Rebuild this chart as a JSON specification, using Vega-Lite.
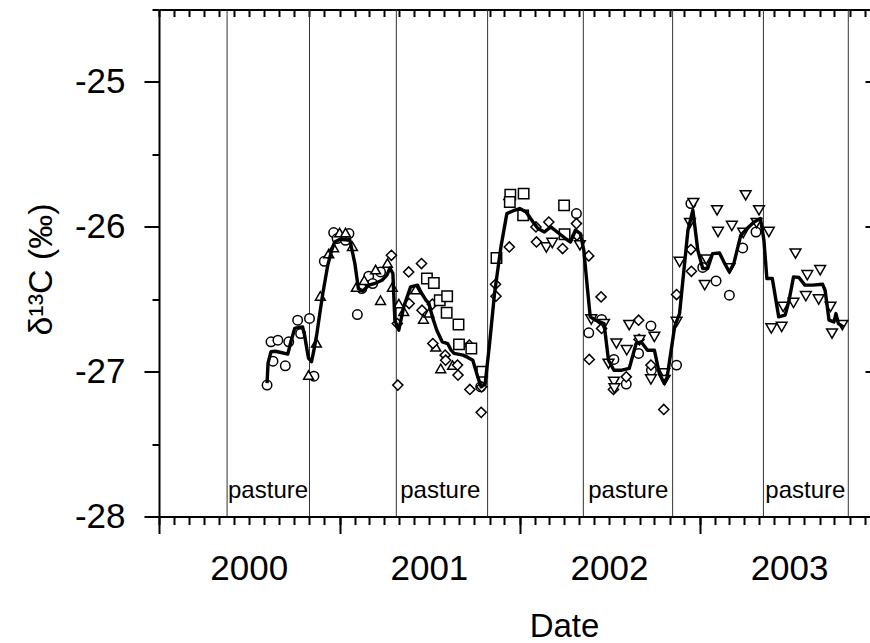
{
  "$schema": "https://vega.github.io/schema/vega-lite/v6.json",
  "width": 711,
  "height": 507,
  "autosize": {"type": "none"},
  "padding": {"left": 159, "top": 9.5, "right": 0, "bottom": 126.5},
  "background": "white",
  "config": {
    "view": {"stroke": null},
    "font": "Liberation Sans",
    "axis": {
      "grid": false,
      "domainColor": "black",
      "tickColor": "black",
      "labelColor": "black",
      "titleColor": "black",
      "labelFont": "Liberation Sans",
      "titleFont": "Liberation Sans",
      "titleFontWeight": "normal",
      "domainWidth": 2,
      "tickWidth": 2,
      "labelFlush": false,
      "labelOverlap": false
    }
  },
  "datasets": {
    "pastures": [
      {"start": "2000-05-18", "end": "2000-11-01", "mid": "2000-08-09", "label": "pasture"},
      {"start": "2001-04-26", "end": "2001-10-28", "mid": "2001-07-24", "label": "pasture"},
      {"start": "2002-05-10", "end": "2002-11-07", "mid": "2002-08-09", "label": "pasture"},
      {"start": "2003-05-10", "end": "2003-10-29", "mid": "2003-08-03", "label": "pasture"}
    ],
    "samples": [
      {"date": "2000-08-07", "d13C": -27.093, "series": "1"},
      {"date": "2000-08-19", "d13C": -26.928, "series": "1"},
      {"date": "2000-08-15", "d13C": -26.794, "series": "1"},
      {"date": "2000-08-29", "d13C": -26.783, "series": "1"},
      {"date": "2000-09-13", "d13C": -26.960, "series": "1"},
      {"date": "2000-09-20", "d13C": -26.794, "series": "1"},
      {"date": "2000-10-08", "d13C": -26.645, "series": "1"},
      {"date": "2000-10-14", "d13C": -26.737, "series": "1"},
      {"date": "2000-11-01", "d13C": -26.633, "series": "1"},
      {"date": "2000-11-10", "d13C": -27.031, "series": "1"},
      {"date": "2000-12-01", "d13C": -26.238, "series": "1"},
      {"date": "2000-12-20", "d13C": -26.040, "series": "1"},
      {"date": "2000-12-27", "d13C": -26.081, "series": "1"},
      {"date": "2001-01-13", "d13C": -26.093, "series": "1"},
      {"date": "2001-01-20", "d13C": -26.047, "series": "1"},
      {"date": "2001-02-06", "d13C": -26.606, "series": "1"},
      {"date": "2001-02-15", "d13C": -26.426, "series": "1"},
      {"date": "2001-03-01", "d13C": -26.341, "series": "1"},
      {"date": "2001-03-09", "d13C": -26.392, "series": "1"},
      {"date": "2001-03-25", "d13C": -26.312, "series": "1"},
      {"date": "2001-10-14", "d13C": -27.105, "series": "1"},
      {"date": "2002-04-26", "d13C": -25.909, "series": "1"},
      {"date": "2002-05-21", "d13C": -26.732, "series": "1"},
      {"date": "2002-06-16", "d13C": -26.640, "series": "1"},
      {"date": "2002-07-11", "d13C": -26.916, "series": "1"},
      {"date": "2002-08-05", "d13C": -27.086, "series": "1"},
      {"date": "2002-08-30", "d13C": -26.874, "series": "1"},
      {"date": "2002-09-24", "d13C": -26.684, "series": "1"},
      {"date": "2002-09-25", "d13C": -26.990, "series": "1"},
      {"date": "2002-11-15", "d13C": -26.955, "series": "1"},
      {"date": "2002-12-14", "d13C": -25.840, "series": "1"},
      {"date": "2003-01-07", "d13C": -26.281, "series": "1"},
      {"date": "2003-02-03", "d13C": -26.374, "series": "1"},
      {"date": "2003-03-02", "d13C": -26.472, "series": "1"},
      {"date": "2003-03-29", "d13C": -26.146, "series": "1"},
      {"date": "2003-04-25", "d13C": -26.036, "series": "1"},

      {"date": "2000-10-30", "d13C": -27.024, "series": "2"},
      {"date": "2000-11-15", "d13C": -26.801, "series": "2"},
      {"date": "2000-11-23", "d13C": -26.477, "series": "2"},
      {"date": "2000-12-10", "d13C": -26.185, "series": "2"},
      {"date": "2000-12-20", "d13C": -26.143, "series": "2"},
      {"date": "2001-01-01", "d13C": -26.040, "series": "2"},
      {"date": "2001-01-13", "d13C": -26.040, "series": "2"},
      {"date": "2001-01-27", "d13C": -26.134, "series": "2"},
      {"date": "2001-02-04", "d13C": -26.415, "series": "2"},
      {"date": "2001-02-20", "d13C": -26.369, "series": "2"},
      {"date": "2001-03-15", "d13C": -26.295, "series": "2"},
      {"date": "2001-03-25", "d13C": -26.507, "series": "2"},
      {"date": "2001-04-08", "d13C": -26.250, "series": "2"},
      {"date": "2001-04-18", "d13C": -26.415, "series": "2"},
      {"date": "2001-05-01", "d13C": -26.530, "series": "2"},
      {"date": "2001-05-11", "d13C": -26.583, "series": "2"},
      {"date": "2001-06-04", "d13C": -26.433, "series": "2"},
      {"date": "2001-06-20", "d13C": -26.636, "series": "2"},
      {"date": "2001-07-01", "d13C": -26.594, "series": "2"},
      {"date": "2001-07-15", "d13C": -26.829, "series": "2"},
      {"date": "2001-07-25", "d13C": -26.978, "series": "2"},
      {"date": "2001-08-18", "d13C": -26.955, "series": "2"},

      {"date": "2001-04-16", "d13C": -26.197, "series": "3"},
      {"date": "2001-04-28", "d13C": -26.668, "series": "3"},
      {"date": "2001-04-29", "d13C": -27.093, "series": "3"},
      {"date": "2001-05-21", "d13C": -26.312, "series": "3"},
      {"date": "2001-06-16", "d13C": -26.254, "series": "3"},
      {"date": "2001-05-22", "d13C": -26.530, "series": "3"},
      {"date": "2001-06-17", "d13C": -26.576, "series": "3"},
      {"date": "2001-07-08", "d13C": -26.534, "series": "3"},
      {"date": "2001-07-09", "d13C": -26.806, "series": "3"},
      {"date": "2001-08-03", "d13C": -26.886, "series": "3"},
      {"date": "2001-08-04", "d13C": -26.921, "series": "3"},
      {"date": "2001-08-28", "d13C": -26.955, "series": "3"},
      {"date": "2001-08-29", "d13C": -27.024, "series": "3"},
      {"date": "2001-09-21", "d13C": -26.817, "series": "3"},
      {"date": "2001-09-22", "d13C": -27.123, "series": "3"},
      {"date": "2001-10-16", "d13C": -27.105, "series": "3"},
      {"date": "2001-10-15", "d13C": -27.281, "series": "3"},
      {"date": "2001-11-13", "d13C": -26.397, "series": "3"},
      {"date": "2001-11-14", "d13C": -26.479, "series": "3"},
      {"date": "2001-12-10", "d13C": -25.812, "series": "3"},
      {"date": "2001-12-11", "d13C": -26.139, "series": "3"},
      {"date": "2002-02-03", "d13C": -26.001, "series": "3"},
      {"date": "2002-02-04", "d13C": -26.105, "series": "3"},
      {"date": "2002-03-01", "d13C": -25.967, "series": "3"},
      {"date": "2002-03-29", "d13C": -26.150, "series": "3"},
      {"date": "2002-04-26", "d13C": -25.978, "series": "3"},
      {"date": "2002-04-27", "d13C": -26.059, "series": "3"},
      {"date": "2002-05-21", "d13C": -26.201, "series": "3"},
      {"date": "2002-06-15", "d13C": -26.484, "series": "3"},
      {"date": "2002-06-16", "d13C": -26.702, "series": "3"},
      {"date": "2002-05-22", "d13C": -26.916, "series": "3"},
      {"date": "2002-07-10", "d13C": -27.123, "series": "3"},
      {"date": "2002-08-05", "d13C": -27.036, "series": "3"},
      {"date": "2002-08-30", "d13C": -26.645, "series": "3"},
      {"date": "2002-08-31", "d13C": -26.778, "series": "3"},
      {"date": "2002-09-24", "d13C": -26.955, "series": "3"},
      {"date": "2002-10-20", "d13C": -27.261, "series": "3"},
      {"date": "2002-11-15", "d13C": -26.468, "series": "3"},
      {"date": "2002-12-14", "d13C": -26.157, "series": "3"},
      {"date": "2002-12-15", "d13C": -26.307, "series": "3"},

      {"date": "2001-06-27", "d13C": -26.357, "series": "4"},
      {"date": "2001-07-11", "d13C": -26.388, "series": "4"},
      {"date": "2001-07-23", "d13C": -26.507, "series": "4"},
      {"date": "2001-08-07", "d13C": -26.479, "series": "4"},
      {"date": "2001-08-06", "d13C": -26.594, "series": "4"},
      {"date": "2001-08-30", "d13C": -26.674, "series": "4"},
      {"date": "2001-08-31", "d13C": -26.812, "series": "4"},
      {"date": "2001-09-25", "d13C": -26.840, "series": "4"},
      {"date": "2001-10-17", "d13C": -27.001, "series": "4"},
      {"date": "2001-11-15", "d13C": -26.215, "series": "4"},
      {"date": "2001-12-13", "d13C": -25.778, "series": "4"},
      {"date": "2001-12-12", "d13C": -25.829, "series": "4"},
      {"date": "2002-01-09", "d13C": -25.771, "series": "4"},
      {"date": "2002-01-08", "d13C": -25.921, "series": "4"},
      {"date": "2002-04-01", "d13C": -25.852, "series": "4"},
      {"date": "2002-04-02", "d13C": -26.052, "series": "4"},

      {"date": "2002-02-24", "d13C": -26.143, "series": "5"},
      {"date": "2002-03-08", "d13C": -26.112, "series": "5"},
      {"date": "2002-05-03", "d13C": -26.128, "series": "5"},
      {"date": "2002-05-26", "d13C": -26.640, "series": "5"},
      {"date": "2002-06-21", "d13C": -26.672, "series": "5"},
      {"date": "2002-07-16", "d13C": -26.806, "series": "5"},
      {"date": "2002-06-30", "d13C": -26.946, "series": "5"},
      {"date": "2002-07-11", "d13C": -27.070, "series": "5"},
      {"date": "2002-07-12", "d13C": -27.116, "series": "5"},
      {"date": "2002-08-06", "d13C": -26.852, "series": "5"},
      {"date": "2002-08-11", "d13C": -26.679, "series": "5"},
      {"date": "2002-09-01", "d13C": -26.783, "series": "5"},
      {"date": "2002-10-01", "d13C": -26.760, "series": "5"},
      {"date": "2002-09-24", "d13C": -27.054, "series": "5"},
      {"date": "2002-10-21", "d13C": -27.012, "series": "5"},
      {"date": "2002-10-22", "d13C": -27.059, "series": "5"},
      {"date": "2002-11-15", "d13C": -26.657, "series": "5"},
      {"date": "2002-11-21", "d13C": -26.243, "series": "5"},
      {"date": "2002-12-12", "d13C": -25.974, "series": "5"},
      {"date": "2002-12-19", "d13C": -25.836, "series": "5"},
      {"date": "2003-01-14", "d13C": -26.226, "series": "5"},
      {"date": "2003-01-11", "d13C": -26.403, "series": "5"},
      {"date": "2003-02-05", "d13C": -25.886, "series": "5"},
      {"date": "2003-02-07", "d13C": -26.036, "series": "5"},
      {"date": "2003-03-07", "d13C": -25.994, "series": "5"},
      {"date": "2003-03-02", "d13C": -26.288, "series": "5"},
      {"date": "2003-04-04", "d13C": -25.783, "series": "5"},
      {"date": "2003-03-30", "d13C": -26.043, "series": "5"},
      {"date": "2003-05-01", "d13C": -25.886, "series": "5"},
      {"date": "2003-04-26", "d13C": -25.974, "series": "5"},
      {"date": "2003-05-21", "d13C": -26.036, "series": "5"},
      {"date": "2003-05-26", "d13C": -26.702, "series": "5"},
      {"date": "2003-06-16", "d13C": -26.691, "series": "5"},
      {"date": "2003-06-19", "d13C": -26.553, "series": "5"},
      {"date": "2003-07-14", "d13C": -26.185, "series": "5"},
      {"date": "2003-07-10", "d13C": -26.526, "series": "5"},
      {"date": "2003-08-04", "d13C": -26.479, "series": "5"},
      {"date": "2003-08-07", "d13C": -26.334, "series": "5"},
      {"date": "2003-09-02", "d13C": -26.300, "series": "5"},
      {"date": "2003-08-30", "d13C": -26.502, "series": "5"},
      {"date": "2003-09-23", "d13C": -26.553, "series": "5"},
      {"date": "2003-09-26", "d13C": -26.737, "series": "5"},
      {"date": "2003-10-17", "d13C": -26.679, "series": "5"}
    ],
    "mean": [
      {"date": "2000-08-07", "d13C": -27.079},
      {"date": "2000-08-09", "d13C": -26.941},
      {"date": "2000-08-15", "d13C": -26.863},
      {"date": "2000-08-24", "d13C": -26.859},
      {"date": "2000-09-02", "d13C": -26.866},
      {"date": "2000-09-18", "d13C": -26.879},
      {"date": "2000-09-24", "d13C": -26.797},
      {"date": "2000-10-02", "d13C": -26.702},
      {"date": "2000-10-12", "d13C": -26.693},
      {"date": "2000-10-18", "d13C": -26.691},
      {"date": "2000-10-22", "d13C": -26.748},
      {"date": "2000-10-26", "d13C": -26.829},
      {"date": "2000-10-30", "d13C": -26.907},
      {"date": "2000-11-05", "d13C": -26.932},
      {"date": "2000-11-10", "d13C": -26.852},
      {"date": "2000-11-16", "d13C": -26.737},
      {"date": "2000-11-22", "d13C": -26.597},
      {"date": "2000-11-28", "d13C": -26.461},
      {"date": "2000-12-08", "d13C": -26.266},
      {"date": "2000-12-16", "d13C": -26.162},
      {"date": "2000-12-22", "d13C": -26.105},
      {"date": "2001-01-02", "d13C": -26.086},
      {"date": "2001-01-08", "d13C": -26.088},
      {"date": "2001-01-22", "d13C": -26.093},
      {"date": "2001-02-01", "d13C": -26.254},
      {"date": "2001-02-08", "d13C": -26.426},
      {"date": "2001-02-17", "d13C": -26.443},
      {"date": "2001-03-01", "d13C": -26.403},
      {"date": "2001-03-14", "d13C": -26.390},
      {"date": "2001-03-28", "d13C": -26.369},
      {"date": "2001-04-07", "d13C": -26.334},
      {"date": "2001-04-13", "d13C": -26.284},
      {"date": "2001-04-19", "d13C": -26.323},
      {"date": "2001-04-23", "d13C": -26.645},
      {"date": "2001-05-01", "d13C": -26.714},
      {"date": "2001-05-11", "d13C": -26.553},
      {"date": "2001-05-25", "d13C": -26.415},
      {"date": "2001-06-08", "d13C": -26.403},
      {"date": "2001-06-15", "d13C": -26.452},
      {"date": "2001-06-25", "d13C": -26.507},
      {"date": "2001-07-01", "d13C": -26.528},
      {"date": "2001-07-08", "d13C": -26.622},
      {"date": "2001-07-17", "d13C": -26.714},
      {"date": "2001-07-28", "d13C": -26.794},
      {"date": "2001-08-08", "d13C": -26.806},
      {"date": "2001-08-15", "d13C": -26.852},
      {"date": "2001-08-21", "d13C": -26.874},
      {"date": "2001-09-08", "d13C": -26.886},
      {"date": "2001-09-17", "d13C": -26.900},
      {"date": "2001-09-28", "d13C": -26.921},
      {"date": "2001-10-08", "d13C": -27.036},
      {"date": "2001-10-15", "d13C": -27.105},
      {"date": "2001-10-23", "d13C": -27.086},
      {"date": "2001-11-01", "d13C": -26.806},
      {"date": "2001-11-11", "d13C": -26.461},
      {"date": "2001-11-24", "d13C": -26.139},
      {"date": "2001-12-06", "d13C": -25.909},
      {"date": "2001-12-21", "d13C": -25.886},
      {"date": "2002-01-01", "d13C": -25.874},
      {"date": "2002-01-14", "d13C": -25.898},
      {"date": "2002-01-28", "d13C": -25.967},
      {"date": "2002-02-07", "d13C": -26.012},
      {"date": "2002-02-20", "d13C": -26.036},
      {"date": "2002-03-05", "d13C": -26.001},
      {"date": "2002-03-18", "d13C": -26.036},
      {"date": "2002-04-04", "d13C": -26.081},
      {"date": "2002-04-14", "d13C": -26.105},
      {"date": "2002-04-24", "d13C": -26.024},
      {"date": "2002-05-04", "d13C": -26.047},
      {"date": "2002-05-11", "d13C": -26.162},
      {"date": "2002-05-18", "d13C": -26.415},
      {"date": "2002-05-24", "d13C": -26.622},
      {"date": "2002-06-04", "d13C": -26.645},
      {"date": "2002-06-21", "d13C": -26.668},
      {"date": "2002-06-30", "d13C": -26.921},
      {"date": "2002-07-11", "d13C": -26.990},
      {"date": "2002-07-27", "d13C": -26.990},
      {"date": "2002-08-11", "d13C": -26.978},
      {"date": "2002-08-25", "d13C": -26.806},
      {"date": "2002-09-04", "d13C": -26.794},
      {"date": "2002-09-17", "d13C": -26.852},
      {"date": "2002-10-01", "d13C": -26.852},
      {"date": "2002-10-11", "d13C": -27.012},
      {"date": "2002-10-21", "d13C": -27.081},
      {"date": "2002-10-27", "d13C": -27.036},
      {"date": "2002-11-11", "d13C": -26.691},
      {"date": "2002-11-21", "d13C": -26.599},
      {"date": "2002-12-08", "d13C": -26.024},
      {"date": "2002-12-18", "d13C": -25.886},
      {"date": "2002-12-28", "d13C": -26.162},
      {"date": "2003-01-07", "d13C": -26.288},
      {"date": "2003-01-17", "d13C": -26.288},
      {"date": "2003-01-27", "d13C": -26.185},
      {"date": "2003-02-10", "d13C": -26.181},
      {"date": "2003-02-19", "d13C": -26.243},
      {"date": "2003-03-02", "d13C": -26.312},
      {"date": "2003-03-11", "d13C": -26.254},
      {"date": "2003-03-25", "d13C": -26.059},
      {"date": "2003-04-07", "d13C": -26.012},
      {"date": "2003-04-21", "d13C": -25.967},
      {"date": "2003-05-04", "d13C": -25.943},
      {"date": "2003-05-11", "d13C": -26.093},
      {"date": "2003-05-17", "d13C": -26.357},
      {"date": "2003-05-28", "d13C": -26.357},
      {"date": "2003-06-10", "d13C": -26.622},
      {"date": "2003-06-23", "d13C": -26.610},
      {"date": "2003-07-01", "d13C": -26.507},
      {"date": "2003-07-10", "d13C": -26.346},
      {"date": "2003-07-21", "d13C": -26.350},
      {"date": "2003-08-02", "d13C": -26.403},
      {"date": "2003-08-17", "d13C": -26.403},
      {"date": "2003-09-07", "d13C": -26.397},
      {"date": "2003-09-12", "d13C": -26.438},
      {"date": "2003-09-20", "d13C": -26.645},
      {"date": "2003-09-30", "d13C": -26.657},
      {"date": "2003-10-04", "d13C": -26.599},
      {"date": "2003-10-09", "d13C": -26.668},
      {"date": "2003-10-19", "d13C": -26.691}
    ]
  },
  "resolve": {
    "scale": {"x": "shared", "y": "shared"},
    "axis": {"x": "independent", "y": "independent"}
  },
  "layer": [
    {
      "data": {"name": "pastures"},
      "mark": {"type": "rule", "color": "#333333", "strokeWidth": 1},
      "encoding": {
        "x": {
          "field": "start", "type": "temporal",
          "scale": {"type": "utc", "domain": [{"year": 2000, "month": 1, "date": 1, "utc": true}, {"year": 2003, "month": 12, "date": 12, "utc": true}]},
          "axis": {"orient": "bottom", "tickCount": {"interval": "month", "step": 1}, "tickSize": 8, "labels": false, "domain": true, "title": null}
        },
        "y": {
          "datum": -28, "type": "quantitative",
          "scale": {"domain": [-28, -24.5], "nice": false, "zero": false},
          "axis": {"orient": "right", "values": [-27, -26, -25], "tickSize": -5, "labels": false, "domain": false, "title": null}
        },
        "y2": {"datum": -24.5}
      }
    },
    {
      "data": {"name": "pastures"},
      "mark": {"type": "rule", "color": "#333333", "strokeWidth": 1},
      "encoding": {
        "x": {
          "field": "end", "type": "temporal",
          "scale": {"type": "utc"},
          "axis": {"orient": "top", "tickCount": {"interval": "month", "step": 1}, "tickSize": -7, "labels": false, "domain": true, "title": null}
        },
        "y": {"datum": -28, "type": "quantitative", "axis": null},
        "y2": {"datum": -24.5}
      }
    },
    {
      "data": {"name": "samples"},
      "mark": {"type": "point", "filled": true, "fill": "white", "stroke": "black", "strokeWidth": 1.5, "opacity": 1},
      "encoding": {
        "x": {
          "field": "date", "type": "temporal",
          "scale": {"type": "utc"},
          "axis": {"orient": "bottom", "tickCount": {"interval": "year", "step": 1}, "tickSize": 17, "labels": false, "domain": false, "title": null}
        },
        "y": {
          "field": "d13C", "type": "quantitative",
          "axis": {
            "orient": "left", "values": [-28, -27, -26, -25], "tickSize": 15, "domain": true,
            "labelPadding": 19, "labelFontSize": 35, "labelBaseline": "middle",
            "labelExpr": "'-' + format(abs(datum.value), 'd')",
            "title": "δ¹³C (‰)", "titleFontSize": 34, "titleAngle": -90,
            "titleX": -108, "titleY": 259.5, "titleAlign": "center", "titleBaseline": "alphabetic"
          }
        },
        "shape": {
          "field": "series", "type": "nominal",
          "scale": {"domain": ["1", "2", "3", "4", "5"], "range": ["circle", "triangle-up", "diamond", "square", "triangle-down"]},
          "legend": null
        },
        "size": {
          "field": "series", "type": "ordinal",
          "scale": {"domain": ["1", "2", "3", "4", "5"], "range": [90, 115, 125, 78, 115]},
          "legend": null
        }
      }
    },
    {
      "data": {"name": "mean"},
      "mark": {"type": "line", "color": "black", "strokeWidth": 3.4, "strokeJoin": "round"},
      "encoding": {
        "x": {
          "field": "date", "type": "temporal",
          "scale": {"type": "utc"},
          "axis": {
            "orient": "bottom",
            "values": [
              {"year": 2000, "month": 7, "date": 1, "utc": true},
              {"year": 2001, "month": 7, "date": 1, "utc": true},
              {"year": 2002, "month": 7, "date": 1, "utc": true},
              {"year": 2003, "month": 7, "date": 1, "utc": true}
            ],
            "ticks": false, "tickSize": 0, "domain": false,
            "labelExpr": "utcFormat(datum.value, '%Y')",
            "labelFontSize": 35, "labelPadding": 63, "labelBaseline": "alphabetic", "labelDx": -5,
            "title": "Date", "titleFontSize": 33, "titleX": 405, "titleY": 120,
            "titleAlign": "center", "titleBaseline": "alphabetic"
          }
        },
        "y": {
          "field": "d13C", "type": "quantitative",
          "axis": {"orient": "left", "values": [-27.5, -26.5, -25.5, -24.5], "tickSize": 7, "labels": false, "domain": false, "title": null}
        }
      }
    },
    {
      "data": {"name": "pastures"},
      "mark": {"type": "text", "fontSize": 24, "font": "Liberation Sans", "align": "center", "baseline": "alphabetic", "color": "black"},
      "encoding": {
        "x": {"field": "mid", "type": "temporal", "scale": {"type": "utc"}, "axis": null},
        "y": {"datum": -27.872, "type": "quantitative", "axis": null},
        "text": {"field": "label"}
      }
    }
  ]
}
